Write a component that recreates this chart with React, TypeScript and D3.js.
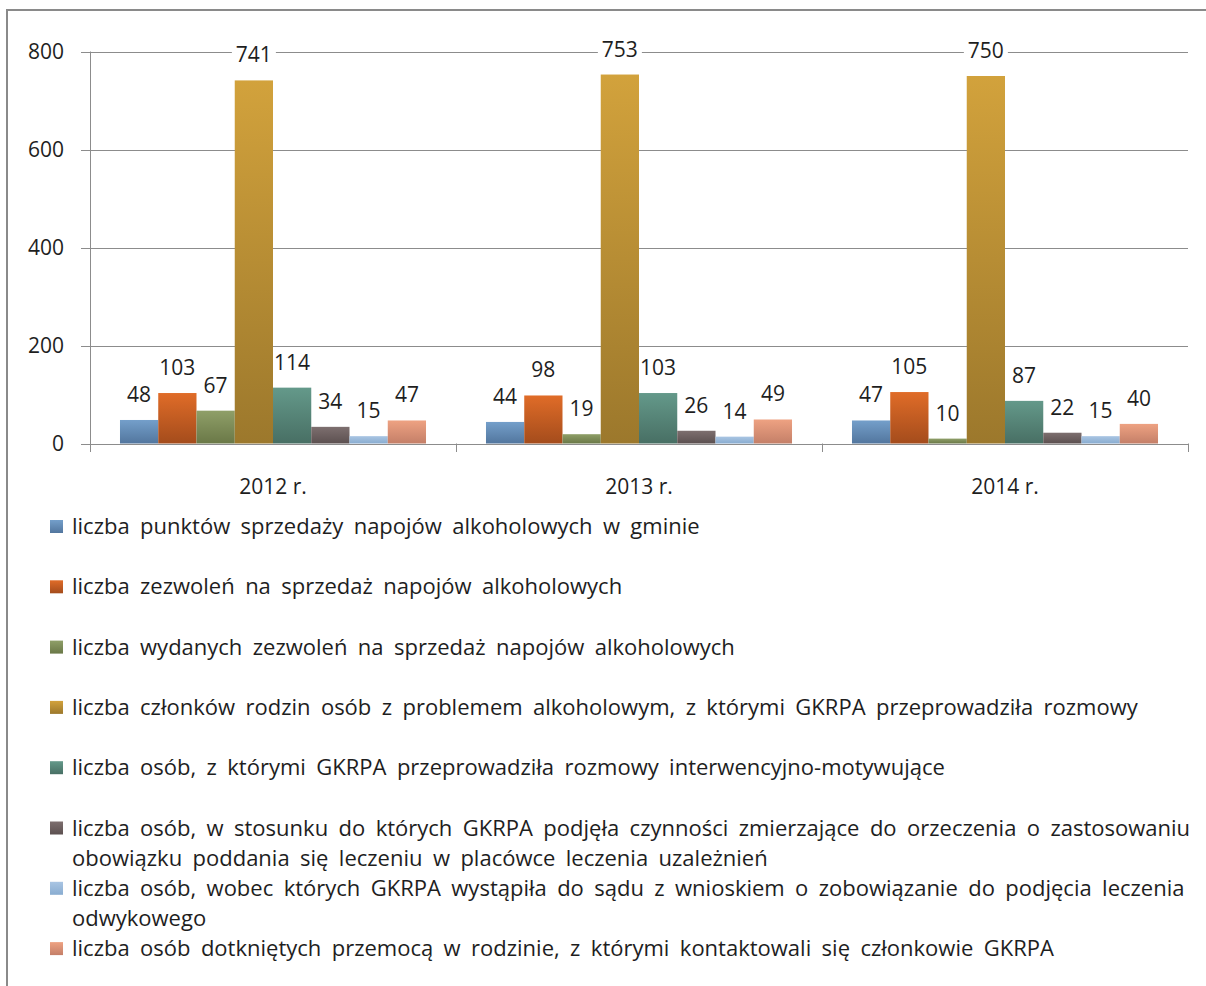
import React from "react";
import * as d3 from "d3";

const categories = ["2012 r.", "2013 r.", "2014 r."];
const seriesNames = [
  "liczba punktów sprzedaży napojów alkoholowych w gminie",
  "liczba zezwoleń na sprzedaż napojów alkoholowych",
  "liczba wydanych zezwoleń na sprzedaż napojów alkoholowych",
  "liczba członków rodzin osób z problemem alkoholowym, z którymi GKRPA przeprowadziła rozmowy",
  "liczba osób, z którymi GKRPA przeprowadziła rozmowy interwencyjno-motywujące",
  "liczba osób, w stosunku do których GKRPA podjęła czynności zmierzające do orzeczenia o zastosowaniu|obowiązku poddania się leczeniu w placówce leczenia uzależnień",
  "liczba osób, wobec których GKRPA wystąpiła do sądu z wnioskiem o zobowiązanie do podjęcia leczenia|odwykowego",
  "liczba osób dotkniętych przemocą w rodzinie, z którymi kontaktowali się członkowie GKRPA",
];
const s1 = [48, 44, 47];
const s2 = [103, 98, 105];
const s3 = [67, 19, 10];
const s4 = [741, 753, 750];
const s5 = [114, 103, 87];
const s6 = [34, 26, 22];
const s7 = [15, 14, 15];
const s8 = [47, 49, 40];
const seriesValues = [s1, s2, s3, s4, s5, s6, s7, s8];
const yTicks = [0, 200, 400, 600, 800];

const topColors = ["#749fca", "#e06c28", "#8f9f68", "#d2a23c", "#64998a", "#7d6f6f", "#a9c5e3", "#eea282"];
const bottomColors = ["#52769e", "#a44c1c", "#6a7847", "#9c782c", "#486f64", "#5c5050", "#89acd0", "#c47f68"];

const FONT = "'Open Sans', sans-serif";
const TEXT = "#1e1e1e";

export default function App() {
  const left = 90, right = 1188;
  const y = d3.scaleLinear().domain([0, 800]).range([443.5, 51.5]);
  const x0 = d3.scaleBand<string>().domain(categories).range([left, right]).paddingInner(0).paddingOuter(0);
  const x1 = d3
    .scaleBand<number>()
    .domain(d3.range(seriesValues.length))
    .range([0, x0.bandwidth()])
    .paddingInner(0)
    .paddingOuter(0.784);
  const gridColor = "#8c8c8c";

  const labels = categories.flatMap((c, ci) =>
    seriesValues.map((vals, si) => {
      const cx = x0(c)! + x1(si)! + x1.bandwidth() / 2;
      const base = y(vals[ci]) - 18;
      const w = String(vals[ci]).length * 12 + 8;
      return { key: `${ci}-${si}`, cx, base, w, v: vals[ci] };
    })
  );

  return (
    <div style={{ position: "absolute", left: 0, top: 0, width: 1206, height: 986, background: "#fff" }}>
      <svg width={1206} height={986} style={{ display: "block" }}>
        <defs>
          {topColors.map((c, i) => (
            <linearGradient key={i} id={`g${i}`} x1="0" y1="0" x2="0" y2="1">
              <stop offset="0" stopColor={c} />
              <stop offset="1" stopColor={bottomColors[i]} />
            </linearGradient>
          ))}
        </defs>
        <rect x={7} y={10} width={1300} height={1100} fill="#fff" stroke="#8a8a8a" strokeWidth={2} />
        {/* gridlines */}
        {yTicks.map((t) => (
          <g key={t}>
            <line x1={81} x2={right} y1={Math.round(y(t)) + 0.5} y2={Math.round(y(t)) + 0.5} stroke={gridColor} strokeWidth={1} />
            <text x={64} y={y(t) + 7.5} textAnchor="end" fontFamily={FONT} fontSize={21} fill={TEXT}>
              {t}
            </text>
          </g>
        ))}
        <line x1={left + 0.5} x2={left + 0.5} y1={y(800)} y2={452} stroke={gridColor} />
        {[...categories.map((c) => x0(c)!), right].map((xx, i) => (
          <line key={i} x1={Math.round(xx) + 0.5} x2={Math.round(xx) + 0.5} y1={y(0)} y2={452} stroke={gridColor} />
        ))}
        {categories.map((c) => (
          <text key={c} x={x0(c)! + x0.bandwidth() / 2} y={494} textAnchor="middle" fontFamily={FONT} fontSize={21} fill={TEXT}>
            {c}
          </text>
        ))}
        {/* label backgrounds (break gridlines) */}
        {labels.map((l) => (
          <rect key={`b${l.key}`} x={l.cx - l.w / 2} y={l.base - 19} width={l.w} height={24} fill="#fff" />
        ))}
        {/* bars */}
        {categories.map((c, ci) =>
          seriesValues.map((vals, si) => {
            const bx = x0(c)! + x1(si)!;
            const by = y(vals[ci]);
            return (
              <rect key={`${ci}-${si}`} x={bx} y={by} width={x1.bandwidth()} height={y(0) - by} fill={`url(#g${si})`} />
            );
          })
        )}
        {/* labels */}
        {labels.map((l) => (
          <text key={`t${l.key}`} x={l.cx} y={l.base} textAnchor="middle" fontFamily={FONT} fontSize={21} fill={TEXT}>
            {l.v}
          </text>
        ))}
        {/* legend */}
        {seriesNames.map((name, i) => {
          const by = 534 + i * 60.3;
          const lines = name.split("|");
          return (
            <g key={i}>
              <rect x={50} y={by - 14} width={13} height={13} fill={`url(#g${i})`} />
              {lines.map((ln, j) => (
                <text key={j} x={72} y={by + j * 30} fontFamily={FONT} fontSize={22} fill={TEXT} style={{ wordSpacing: "4.7px" }}>
                  {ln}
                </text>
              ))}
            </g>
          );
        })}
      </svg>
    </div>
  );
}
